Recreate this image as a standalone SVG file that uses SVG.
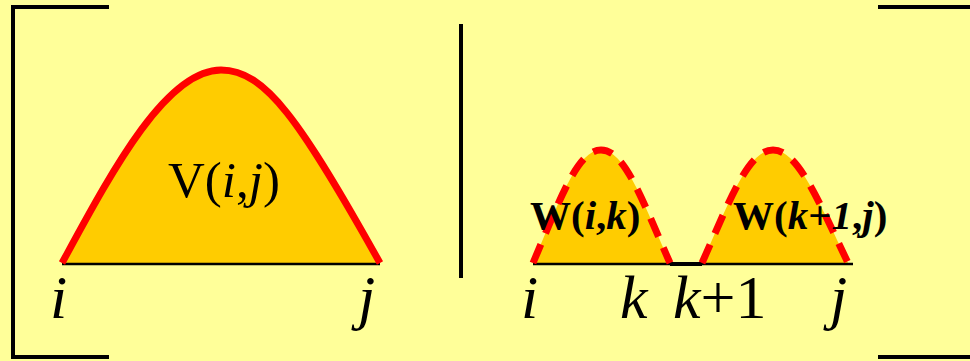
<svg xmlns="http://www.w3.org/2000/svg" width="970" height="361" viewBox="0 0 970 361">
<style>
.frame{stroke:#000;stroke-width:4;fill:none}
.base{stroke:#000;stroke-width:2.5;fill:none}
.fill{fill:#FFCC00;stroke:none}
.solid{fill:none;stroke:#FF0000;stroke-width:7}
.dash{fill:none;stroke:#FF0000;stroke-width:7;stroke-dasharray:20 12}
.lbl{font-family:"Liberation Serif","Times New Roman",serif;font-size:62px;fill:#000}
.big{font-family:"Liberation Serif","Times New Roman",serif;font-size:51px;fill:#000}
.w{font-family:"Liberation Serif","Times New Roman",serif;font-size:41px;font-weight:bold;fill:#000}
</style>
<rect width="970" height="361" fill="#FFFF99"/>
<g id="frame">
<path class="frame" d="M109,7 H13 V357 H109"/>
<path class="frame" d="M878,7 H970 M878,357 H970"/>
<path class="frame" d="M461,24 V278"/>
</g>
<g id="left">
<path class="fill" d="M62,263 C110,175 165,70 221,70 C265,70 300,120 380,263 Z"/>
<path class="base" d="M62,264 H380"/>
<path class="solid" d="M62,263 C110,175 165,70 221,70 C265,70 300,120 380,263"/>
<text class="big" x="168" y="197">V(<tspan font-style="italic">i</tspan>,<tspan font-style="italic">j</tspan>)</text>
<text class="lbl" x="50" y="318" font-style="italic">i</text>
<text class="lbl" x="358" y="318" font-style="italic">j</text>
</g>
<g id="right">
<path class="fill" d="M533,263 C560,200 577,150 601,150 C625,150 642,200 670,263 Z"/>
<path class="fill" d="M702,263 C730,200 748,150 773,150 C798,150 818,200 848,263 Z"/>
<path class="base" d="M533,264 H853"/>
<path d="M670,264 H702" stroke="#000" stroke-width="4"/>
<path class="dash" d="M533,263 C560,200 577,150 601,150 C625,150 642,200 670,263"/>
<path class="dash" d="M702,263 C730,200 748,150 773,150 C798,150 818,200 848,263"/>
<text class="w" x="530" y="229">W(<tspan font-style="italic">i</tspan>,<tspan font-style="italic">k</tspan>)</text>
<text class="w" x="733" y="229">W(<tspan font-style="italic">k</tspan>+<tspan font-style="italic">1</tspan>,<tspan font-style="italic">j</tspan>)</text>
<text class="lbl" x="521" y="318" font-style="italic">i</text>
<text class="lbl" x="620" y="318" font-style="italic">k</text>
<text class="lbl" x="673" y="318"><tspan font-style="italic">k</tspan>+1</text>
<text class="lbl" x="830" y="318" font-style="italic">j</text>
</g>
</svg>
